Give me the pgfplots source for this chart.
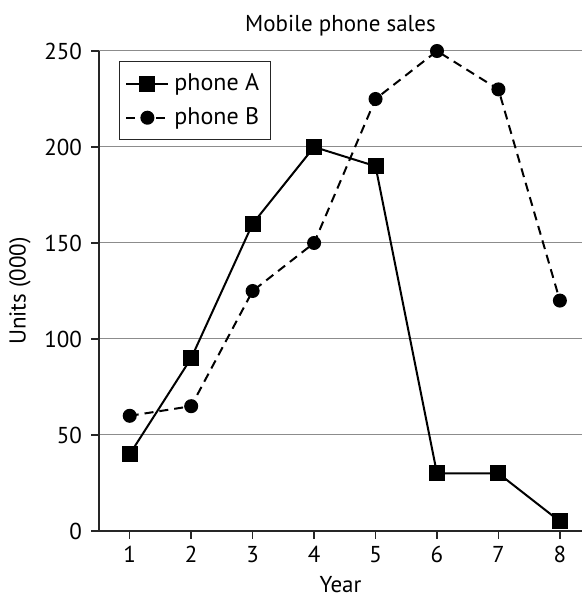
\documentclass[border=0pt]{standalone}
\usepackage{pgfplots}
\pgfplotsset{compat=1.18}
\usepackage{fontspec}
\setmainfont{PT Sans}
\begin{document}
\begin{tikzpicture}
\useasboundingbox (0,0) rectangle (291pt,301.5pt);
\begin{axis}[
  at={(49.5pt,36pt)}, anchor=south west,
  scale only axis, width=241.5pt, height=240pt,
  xmin=0.5, xmax=8.36, ymin=0, ymax=250,
  axis x line=bottom, axis y line=left,
  axis line style={-, black!85, line width=0.8pt},
  xtick={1,...,8}, ytick={0,50,...,250},
  tick align=outside, major tick length=4pt,
  tick style={black!85, line width=0.7pt},
  ymajorgrids, grid style={black!45, line width=0.5pt},
  /pgf/number format/assume math mode=true,
  ticklabel style={font=\fontsize{11.5}{13}\selectfont},
  yticklabel style={xshift=-1pt},
  title={Mobile phone sales}, title style={font=\fontsize{11.5}{13}\selectfont, yshift=-2pt},
  xlabel={Year}, ylabel={Units (000)},
  label style={font=\fontsize{11.5}{13}\selectfont},
  legend style={at={(0.041,0.979)}, anchor=north west, draw=black!85, line width=0.6pt,
    font=\fontsize{12}{14}\selectfont, row sep=3pt, inner xsep=3pt, inner ysep=4pt,
    nodes={inner xsep=2.5pt}},
  legend cell align=left,
  legend image code/.code={\draw[#1] (0pt,0pt) -- (21pt,0pt); \draw[#1, solid] plot coordinates {(10.5pt,0pt)};},
]
\addplot[black, line width=1pt, mark=square*, mark size=3.5pt, mark options={solid}] coordinates {
 (1,40) (2,90) (3,160) (4,200) (5,190) (6,30) (7,30) (8,5)};
\addlegendentry{phone A}
\addplot[black, line width=1pt, dash pattern=on 4.5pt off 3pt, mark=*, mark size=3pt, mark options={solid}] coordinates {
 (1,60) (2,65) (3,125) (4,150) (5,225) (6,250) (7,230) (8,120)};
\addlegendentry{phone B}
\end{axis}
\end{tikzpicture}
\end{document}
